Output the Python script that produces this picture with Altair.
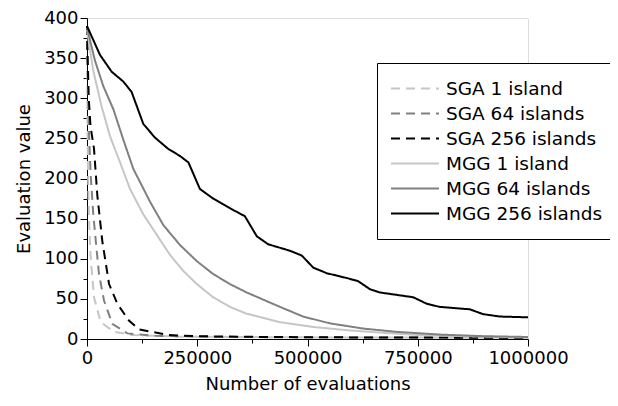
import altair as alt
import pandas as pd

series_names = ["SGA 1 island", "SGA 64 islands", "SGA 256 islands",
                "MGG 1 island", "MGG 64 islands", "MGG 256 islands"]
series_colors = ["#c6c6c6", "#808080", "#000000", "#c6c6c6", "#808080", "#000000"]
series_dash = [[9, 6], [9, 6], [9, 6], [1, 0], [1, 0], [1, 0]]

sga1_x = [0, 1000, 2000, 4500, 8400, 15900, 31000, 61000, 102000, 200000, 500000, 1000000]
sga1_y = [390, 280, 215, 150, 101, 52, 21, 9, 5, 3, 2, 1.5]

sga64_x = [0, 2000, 5000, 8400, 14300, 22000, 27200, 38500, 57400, 91400, 155000, 300000, 600000, 1000000]
sga64_y = [390, 320, 250, 204, 155, 110, 81, 48, 19, 7, 4, 2.5, 2, 1.5]

sga256_x = [0, 1000, 4000, 8000, 15900, 23400, 34700, 50000, 68700, 95000, 118000, 185000, 250000, 400000, 600000, 1000000]
sga256_y = [390, 360, 300, 265, 237, 179, 122, 68.5, 44, 23, 12, 5, 3.5, 2.5, 2, 1.5]

mgg1_x = [0, 14000, 33000, 52000, 75000, 97500, 128000, 158000, 188000, 218000, 249000, 286000, 324000, 362000, 437600, 513000, 589000, 664000, 750000, 850000, 1000000]
mgg1_y = [385, 335, 290, 253, 220, 187, 155, 130, 105, 85, 68.5, 52, 40, 31.5, 21, 15, 11, 8, 5, 3.5, 2]

mgg64_x = [0, 18000, 37000, 60000, 82000, 105000, 143000, 173000, 211000, 249000, 286000, 324000, 362000, 437600, 490000, 551000, 626500, 700000, 800000, 900000, 1000000]
mgg64_y = [388, 347, 315, 286, 249, 212, 171, 142, 117, 97, 81, 68.5, 58, 40, 28, 19.5, 13, 9, 5.5, 3.5, 2.5]

mgg256_x = [0, 29500, 56000, 82000, 101000, 127700, 154000, 184000, 211000, 230000, 256000, 286000, 324000, 358000, 385000, 411000, 460000, 487000, 513000, 543500, 589000, 615000, 641700, 664000, 740000, 770000, 800000, 868000, 898000, 936000, 1000000]
mgg256_y = [390, 354, 333, 321, 308, 268, 251, 237, 228, 220, 187, 175, 163, 153, 128, 118, 110, 104, 89, 82, 76, 72, 62, 58, 52, 44, 40, 37, 31, 28, 27]

x_ticks = [0, 125000, 250000, 375000, 500000, 625000, 750000, 875000, 1000000]
y_ticks = list(range(0, 401, 25))

all_x = [sga1_x, sga64_x, sga256_x, mgg1_x, mgg64_x, mgg256_x]
all_y = [sga1_y, sga64_y, sga256_y, mgg1_y, mgg64_y, mgg256_y]

rows = []
for name, xs, ys in zip(series_names, all_x, all_y):
    for i, (xv, yv) in enumerate(zip(xs, ys)):
        rows.append({"series": name, "evals": xv, "value": yv, "idx": i})
df = pd.DataFrame(rows)

FONT = "DejaVu Sans"

legend = alt.Legend(
    orient="none", legendX=290, legendY=45, title=None,
    fillColor="white", strokeColor="black", padding=13,
    symbolType="stroke", symbolSize=2304, symbolStrokeWidth=2,
    labelFontSize=18.5, labelFont=FONT, labelColor="black", labelOffset=6,
    clipHeight=25, rowPadding=0, labelLimit=300,
)

chart = alt.Chart(df).mark_line(strokeWidth=2).encode(
    x=alt.X("evals:Q", scale=alt.Scale(domain=[0, 1000000], nice=False),
            axis=alt.Axis(title="Number of evaluations", values=x_ticks,
                          labelExpr="datum.value % 250000 === 0 ? format(datum.value, 'd') : ''",
                          tickSize={"condition": {"test": "datum.value % 250000 === 0", "value": 7}, "value": 4},
                          grid=False, labelFontSize=18, titleFontSize=18,
                          labelFont=FONT, titleFont=FONT, titleFontWeight="normal",
                          labelColor="black", titleColor="black", domainColor="black",
                          tickColor="black", labelPadding=3, titlePadding=8,
                          labelOverlap=False, labelFlush=False)),
    y=alt.Y("value:Q", scale=alt.Scale(domain=[0, 400], nice=False),
            axis=alt.Axis(title="Evaluation value", values=y_ticks,
                          labelExpr="datum.value % 50 === 0 ? format(datum.value, 'd') : ''",
                          tickSize={"condition": {"test": "datum.value % 50 === 0", "value": 7}, "value": 4},
                          grid=False, labelFontSize=18, titleFontSize=18,
                          labelFont=FONT, titleFont=FONT, titleFontWeight="normal",
                          labelColor="black", titleColor="black", domainColor="black",
                          tickColor="black", labelPadding=2, titlePadding=10,
                          labelOverlap=False, labelFlush=False)),
    color=alt.Color("series:N", scale=alt.Scale(domain=series_names, range=series_colors),
                    sort=series_names, legend=legend),
    strokeDash=alt.StrokeDash("series:N", scale=alt.Scale(domain=series_names, range=series_dash),
                              sort=series_names, legend=legend),
    order="idx:Q",
).properties(
    width=441, height=321,
    autosize=alt.AutoSizeParams(type="none"),
    padding={"left": 79, "top": 10, "right": 82, "bottom": 59},
).configure_view(
    stroke="black", strokeWidth=1
).configure(background="white")

chart.save("out.html", embed_options={"renderer": "svg", "actions": False})
